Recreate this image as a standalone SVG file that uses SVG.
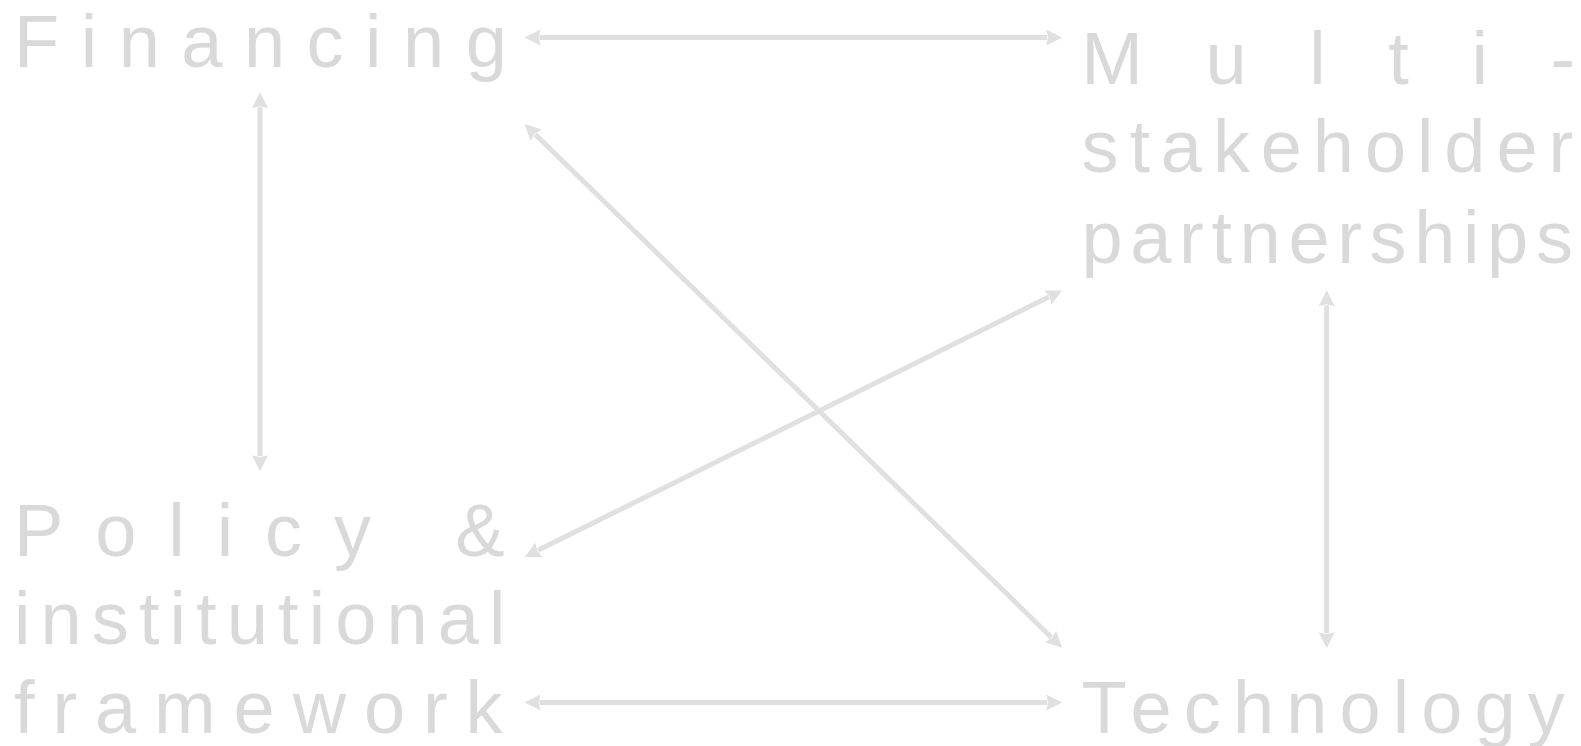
<svg xmlns="http://www.w3.org/2000/svg" width="1581" height="746" viewBox="0 0 1581 746">
  <style>
    .lbl { font-family: "Liberation Sans", Arial, sans-serif; font-size: 74px; fill: #d9d9d9; }
    .last { letter-spacing: 0; }
    .conn { stroke: #e0e0e0; stroke-width: 5; fill: none; marker-start: url(#ah); marker-end: url(#ah); }
  </style>
  <defs>
    <marker id="ah" markerUnits="userSpaceOnUse" markerWidth="17" markerHeight="17" refX="1" refY="8" orient="auto-start-reverse" viewBox="0 0 17 17">
      <path d="M0,0 L16,8 L0,16 L2,8 z" fill="#e0e0e0"/>
    </marker>
  </defs>
  <rect width="1581" height="746" fill="#ffffff"/>

  <g id="connectors">
    <line class="conn" x1="539.5" y1="37.5" x2="1047.2" y2="37.5"/>
    <line class="conn" x1="260" y1="107.2" x2="260" y2="456.2"/>
    <line class="conn" x1="535.4" y1="134.5" x2="1051.3" y2="637.3"/>
    <line class="conn" x1="538" y1="550.3" x2="1048.7" y2="297.1"/>
    <line class="conn" x1="1326.7" y1="305.2" x2="1326.7" y2="633.2"/>
    <line class="conn" x1="539.5" y1="702.5" x2="1047.2" y2="702.5"/>
  </g>

  <g id="node-financing">
    <text class="lbl" x="14" y="66.7" letter-spacing="21.5">Financin<tspan class="last">g</tspan></text>
  </g>
  <g id="node-partnerships">
    <text class="lbl" x="1081.2" y="84" letter-spacing="62.6">Multi<tspan class="last">-</tspan></text>
    <text class="lbl" x="1081.5" y="172" letter-spacing="10.9">stakeholde<tspan class="last">r</tspan></text>
    <text class="lbl" x="1081.5" y="262.7" letter-spacing="7.65">partnership<tspan class="last">s</tspan></text>
  </g>
  <g id="node-policy">
    <text class="lbl" x="14" y="556" letter-spacing="31.9">Policy <tspan class="last">&amp;</tspan></text>
    <text class="lbl" x="14" y="644" letter-spacing="10.1">institutiona<tspan class="last">l</tspan></text>
    <text class="lbl" x="14" y="733" letter-spacing="17.9">framewor<tspan class="last">k</tspan></text>
  </g>
  <g id="node-technology">
    <text class="lbl" x="1081.5" y="732.5" letter-spacing="12.1">Technolog<tspan class="last">y</tspan></text>
  </g>
</svg>
